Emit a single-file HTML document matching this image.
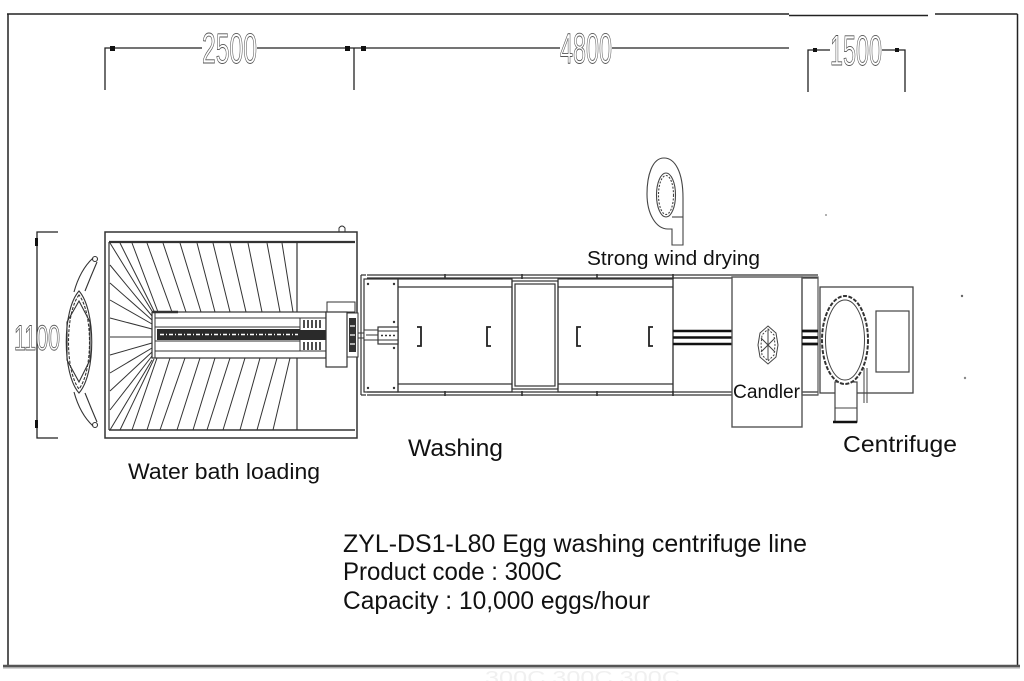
<!DOCTYPE html>
<html><head><meta charset="utf-8"><style>
html,body{margin:0;padding:0;background:#fff;}
body{width:1024px;height:681px;overflow:hidden;}
svg{display:block;}
.t{font-family:"Liberation Sans",sans-serif;fill:#111;}
.d{font-family:"Liberation Sans",sans-serif;fill:#fff;stroke:#555;stroke-width:0.9;}
</style></head><body>
<svg width="1024" height="681" viewBox="0 0 1024 681" xmlns="http://www.w3.org/2000/svg">
<rect width="1024" height="681" fill="#fff"/>
<!-- frame -->
<g stroke="#222" stroke-width="1.5" fill="none">
<path d="M7,14H789"/><path d="M789,15.5H928"/><path d="M935,14H1017.5"/>
<path d="M8,14V666"/><path d="M1017.5,14V667"/>
</g>
<path d="M3,666H1020" stroke="#555" stroke-width="2.5"/>
<path d="M3,668H1020" stroke="#aaa" stroke-width="1"/>
<text x="485" y="684" class="t" style="fill:#f0f0f0" font-size="18" textLength="195" lengthAdjust="spacingAndGlyphs">300C 300C 300C</text>

<!-- top dimensions -->
<g stroke="#222" stroke-width="1.3" fill="none">
<path d="M112,48H202M257,48H560M612,48H789"/>
<path d="M105,90V48H112"/>
<path d="M354,90V48"/>
<path d="M808,92V50H830M882,50H905V92"/>
</g>
<g fill="#111">
<rect x="110" y="46" width="5" height="5"/>
<rect x="345" y="46" width="5" height="5"/>
<rect x="361" y="46" width="5" height="5"/>
<rect x="813" y="48" width="4" height="4"/>
<rect x="895" y="48" width="4" height="4"/>
</g>
<text x="202" y="63" class="d" font-size="43" textLength="55" lengthAdjust="spacingAndGlyphs">2500</text>
<text x="560" y="63" class="d" font-size="43" textLength="52" lengthAdjust="spacingAndGlyphs">4800</text>
<text x="830" y="65" class="d" font-size="43" textLength="52" lengthAdjust="spacingAndGlyphs">1500</text>

<!-- 1100 dimension -->
<g stroke="#222" stroke-width="1.3" fill="none">
<path d="M58,232H37V438H58"/>
</g>
<rect x="35" y="238" width="3" height="8" fill="#111"/>
<rect x="35" y="420" width="3" height="8" fill="#111"/>
<text x="14" y="350" class="d" font-size="35" textLength="46" lengthAdjust="spacingAndGlyphs">1100</text>

<!-- egg tray shape -->
<g stroke="#333" stroke-width="1.1" fill="none">
<path d="M79,291C62,310 62,374 79,393C96,374 96,310 79,291Z"/>
<path d="M79,295C65,313 65,371 79,389C93,371 93,313 79,295Z" stroke-dasharray="3 1.5"/>
<path d="M79,301L90,322L90,360L79,382L67,360L67,322Z"/>
<path d="M74,292Q80,270 93,258M85,291Q91,276 97,262"/>
<circle cx="95" cy="259" r="2.5"/>
<path d="M74,392Q80,414 93,426M85,393Q91,408 97,422"/>
<circle cx="95" cy="425" r="2.5"/>
</g>

<!-- water bath loading box -->
<g stroke="#333" fill="none">
<rect x="105" y="232" width="252" height="206" stroke-width="1.5"/>
<path d="M109,242H355" stroke-width="2.2"/>
<path d="M109,430H355" stroke-width="1.6"/>
<path d="M109,242V430" stroke-width="1.2"/>
<path d="M297,242V312M297,358V430" stroke-width="1.2"/>
<path d="M339,232V228Q342,224 345,228V232" stroke-width="1"/>
</g>
<!-- fan lines -->
<g stroke="#333" stroke-width="1" fill="none">
<path d="M110,243L152,311M120,243L154,311M132,243L158,312M147,243L172,312M163,243L186,312M180,243L201,312M197,243L215,312M213,243L230,312M230,243L246,312M248,243L262,312M267,243L280,312M282,243L293,312"/>
<path d="M110,265L152,316M110,283L152,320M110,300L152,324M110,318L152,329M110,337L152,337"/>
<path d="M110,430L152,360M120,430L154,359M132,430L157,358M147,430L170,358M160,430L185,358M177,430L200,358M193,430L215,358M207,430L230,358M223,430L245,358M240,430L260,358M257,430L277,358M273,430L290,358"/>
<path d="M110,410L152,356M110,391L152,352M110,373L152,348M110,355L152,343"/>
</g>
<!-- loading conveyor -->
<rect x="152" y="312" width="174" height="46" fill="#fff" stroke="#333" stroke-width="1.2"/>
<g stroke="#333" fill="none">
<path d="M152,312H178" stroke-width="2.5"/>
<path d="M155,312V358" stroke-width="1"/>
<path d="M155,318H326M155,351H326" stroke-width="1"/>
<path d="M300,318V351" stroke-width="1"/>
<path d="M155,327H300M155,341H300" stroke-width="1"/>
</g>
<rect x="157" y="329" width="143" height="11" fill="#2a2a2a"/>
<path d="M160,334.5H298" stroke="#fff" stroke-width="1.5" stroke-dasharray="4 2 1 2"/>
<rect x="300" y="330" width="26" height="10" fill="#2a2a2a"/>
<g stroke="#222" stroke-width="1.6">
<path d="M304,320V328M308,320V328M312,320V328M316,320V328M320,320V328"/>
<path d="M304,342V350M308,342V350M312,342V350M316,342V350M320,342V350"/>
</g>
<!-- block -->
<rect x="347" y="313" width="11" height="44" fill="#fff" stroke="#333" stroke-width="1"/>
<rect x="349" y="318" width="7" height="34" fill="#333"/>
<path d="M350,326H355M350,335H355M350,344H355" stroke="#fff" stroke-width="1.2"/>
<rect x="327" y="302" width="28" height="10" fill="#fff" stroke="#333" stroke-width="1"/>
<rect x="326" y="312" width="21" height="55" fill="#fff" stroke="#333" stroke-width="1.2"/>
<path d="M358,333H364M358,338H364" stroke="#333" stroke-width="1"/>

<!-- washing machine -->
<g stroke="#333" fill="none" stroke-width="1.2">
<path d="M361,275V395M361,275H366M361,395H366"/>
<path d="M367,275H818M367,278H818"/>
<path d="M367,392H732M367,395H732M802,392H818M802,395H818"/>
<path d="M445,274V279M522,274V279M597,274V279M673,274V279M445,391V396M522,391V396M597,391V396M673,391V396" stroke-width="1.6"/>
<rect x="364" y="279" width="34" height="113"/>
<rect x="398" y="279" width="114" height="113"/>
<path d="M398,287H512M398,384H512"/>
<rect x="512" y="281" width="46" height="108"/>
<rect x="515" y="284" width="40" height="102"/>
<rect x="558" y="279" width="115" height="113"/>
<path d="M558,287H673M558,384H673"/>
<path d="M673,279V392"/>
</g>
<g fill="#333">
<circle cx="368" cy="284" r="1.2"/><circle cx="394" cy="284" r="1.2"/>
<circle cx="368" cy="388" r="1.2"/><circle cx="394" cy="388" r="1.2"/>
<circle cx="394" cy="322" r="1.2"/><circle cx="394" cy="348" r="1.2"/>
</g>
<!-- inlet -->
<rect x="364" y="330" width="14" height="10" fill="#fff" stroke="#333" stroke-width="1"/>
<rect x="378" y="327" width="20" height="17" fill="#fff" stroke="#333" stroke-width="1.2"/>
<path d="M378,331H398M378,340H398" stroke="#333" stroke-width="1"/>
<path d="M381,335.5H397" stroke="#333" stroke-width="1.5" stroke-dasharray="2 2"/>
<path d="M366,335H378" stroke="#333" stroke-width="1"/>
<!-- brackets -->
<g stroke="#222" stroke-width="1.8" fill="none">
<path d="M417,327H421V346H417"/>
<path d="M491,327H487V346H491"/>
<path d="M581,327H577V346H581"/>
<path d="M653,327H649V346H653"/>
</g>
<!-- rails -->
<g stroke="#111" stroke-width="2.6">
<path d="M673,331H818M673,337.5H818M673,344H818"/>
</g>

<!-- fan -->
<g stroke="#444" stroke-width="1.1" fill="#fff">
<path d="M683,245V198C683,172 675,158 664,158C652,158 647,176 647,194C647,214 656,229 668,229H672V245Z"/>
<ellipse cx="666" cy="195" rx="9.5" ry="22" fill="none"/>
<ellipse cx="666" cy="195" rx="7.5" ry="19.5" fill="none" stroke-dasharray="2 1.5"/>
<path d="M672,217H683" fill="none"/>
</g>
<text x="587" y="265" class="t" font-size="20" textLength="173" lengthAdjust="spacingAndGlyphs">Strong wind drying</text>

<!-- candler -->
<rect x="732" y="277" width="70" height="150" fill="#fff" stroke="#555" stroke-width="1.4"/>
<rect x="802" y="277" width="16" height="118" fill="none" stroke="#555" stroke-width="1.2"/>
<g stroke="#111" stroke-width="2.6">
<path d="M802,331H818M802,337.5H818M802,344H818"/>
</g>
<g stroke="#444" stroke-width="1" fill="none">
<path d="M768,326L776,333L778,345L776,357L768,364L760,357L758,345L760,333Z"/>
<path d="M768,329L774,335L775,345L774,355L768,361L762,355L761,345L762,335Z" stroke-dasharray="2 1.5"/>
<path d="M768,330V360M761,338L775,352M775,338L761,352"/>
</g>
<text x="733" y="398" class="t" font-size="19" textLength="67" lengthAdjust="spacingAndGlyphs">Candler</text>

<!-- centrifuge -->
<rect x="820" y="287" width="93" height="106" fill="#fff" stroke="#444" stroke-width="1.3"/>
<rect x="876" y="311" width="33" height="61" fill="none" stroke="#444" stroke-width="1.2"/>
<path d="M864,368V403M867,368V403" stroke="#444" stroke-width="1"/>
<rect x="835" y="382" width="22" height="40" fill="#fff" stroke="#444" stroke-width="1.2"/>
<path d="M835,408H857" stroke="#444" stroke-width="1"/>
<path d="M833,422H857" stroke="#111" stroke-width="2.5"/>
<ellipse cx="845" cy="340" rx="23" ry="44" fill="#fff" stroke="#333" stroke-width="2" stroke-dasharray="4 1.5"/>
<ellipse cx="845" cy="340" rx="19.5" ry="40" fill="none" stroke="#444" stroke-width="1"/>
<text x="843" y="452" class="t" font-size="23" textLength="114" lengthAdjust="spacingAndGlyphs">Centrifuge</text>

<!-- labels -->
<text x="408" y="456" class="t" font-size="24" textLength="95" lengthAdjust="spacingAndGlyphs">Washing</text>
<text x="128" y="479" class="t" font-size="22" textLength="192" lengthAdjust="spacingAndGlyphs">Water bath loading</text>

<text x="343" y="552" class="t" font-size="25" textLength="464" lengthAdjust="spacingAndGlyphs">ZYL-DS1-L80 Egg washing centrifuge line</text>
<text x="343" y="580" class="t" font-size="25" textLength="219" lengthAdjust="spacingAndGlyphs">Product code : 300C</text>
<text x="343" y="609" class="t" font-size="25" textLength="307" lengthAdjust="spacingAndGlyphs">Capacity : 10,000 eggs/hour</text>

<!-- specks -->
<circle cx="962" cy="296" r="1.2" fill="#666"/>
<circle cx="965" cy="378" r="1.2" fill="#888"/>
<circle cx="826" cy="215" r="1" fill="#999"/>
</svg>
</body></html>
